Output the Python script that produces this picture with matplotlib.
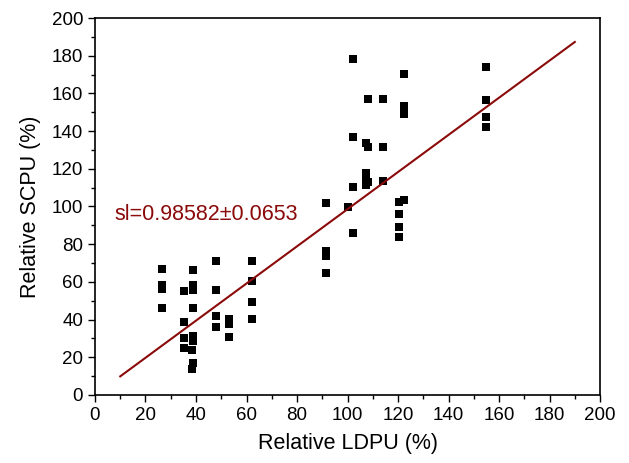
import numpy as np
import matplotlib
matplotlib.use('Agg')
import matplotlib.pyplot as plt
from matplotlib.ticker import MultipleLocator

plt.rcParams['font.family'] = ['Liberation Sans', 'DejaVu Sans']

# relative LDPU (%) vs relative SCPU (%)
ldpu = [26.4, 26.4, 26.4, 26.4,
        35.4, 35.4, 35.4, 35.4,
        38.7, 38.7, 38.7, 38.7, 38.7, 38.7, 38.3, 38.7, 38.3,
        47.8, 47.8, 47.8, 47.8,
        53.2, 53.2, 53.2,
        62.1, 62.1, 62.1, 62.1,
        91.5, 91.5, 91.5, 91.5,
        100.1,
        102.0, 102.0, 102.0, 102.0,
        108.0, 107.3, 108.0, 107.3, 107.3, 108.0, 107.3,
        113.9, 113.9, 113.9,
        122.5, 122.5, 122.5, 122.5, 120.5, 120.5, 120.5, 120.5,
        154.9, 154.9, 154.9, 154.9]
scpu = [66.7, 58.4, 56.1, 46.3,
        55.2, 38.6, 30.1, 25.1,
        66.3, 58.4, 55.7, 46.3, 31.3, 28.6, 23.9, 16.8, 13.6,
        71.2, 55.7, 42.1, 35.9,
        40.2, 37.7, 30.6,
        71.2, 60.5, 49.2, 40.3,
        102.0, 76.6, 73.7, 64.6,
        99.9,
        178.1, 136.7, 110.5, 85.8,
        156.9, 133.8, 131.7, 117.6, 115.0, 113.2, 111.4,
        156.9, 131.7, 113.4,
        170.3, 153.3, 149.1, 103.3, 102.5, 95.9, 89.0, 84.0,
        174.2, 156.5, 147.6, 142.0]

slope = 0.98582
fit_x = np.array([10, 190])
fit_y = slope * fit_x

fig = plt.figure(figsize=(6.29, 4.63), dpi=100)
ax = fig.add_axes([0.151, 0.147, 0.803, 0.814])

ax.plot(ldpu, scpu, 's', color='black', markersize=6, markeredgewidth=0)
ax.plot(fit_x, fit_y, color='#8b0a0a', linewidth=1.5)
ax.text(7.9, 95.5, 'sl=0.98582\u00b10.0653', color='#8b0a0a', fontsize=15.5,
        va='center', ha='left')

ax.set_xlim(0, 200)
ax.set_ylim(0, 200)
ax.xaxis.set_major_locator(MultipleLocator(20))
ax.yaxis.set_major_locator(MultipleLocator(20))
ax.xaxis.set_minor_locator(MultipleLocator(10))
ax.yaxis.set_minor_locator(MultipleLocator(10))
ax.tick_params(which='major', direction='out', length=5, width=1, labelsize=13.5)
ax.tick_params(which='minor', direction='out', length=3, width=1)
ax.tick_params(top=False, right=False, which='both')
for s in ax.spines.values():
    s.set_linewidth(1.2)

ax.set_xlabel('Relative LDPU (%)', fontsize=15.5, labelpad=7)
ax.set_ylabel('Relative SCPU (%)', fontsize=15.5, labelpad=8)

fig.savefig('out.png', dpi=100)
